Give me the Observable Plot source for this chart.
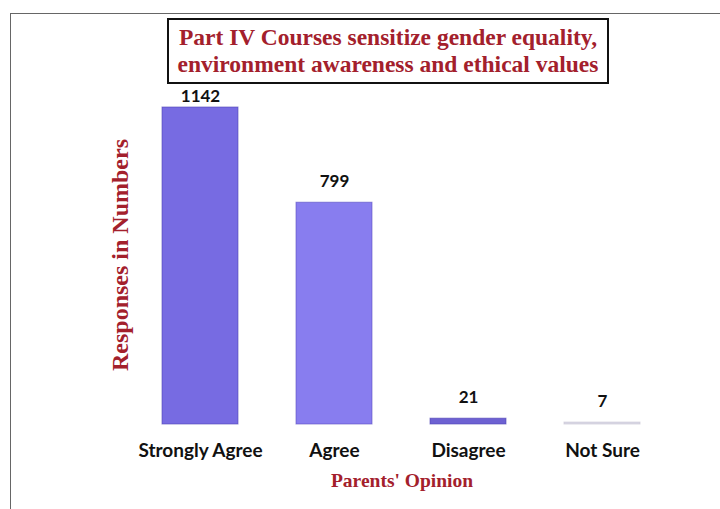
<!DOCTYPE html>
<html><head><meta charset="utf-8">
<script src="https://cdn.jsdelivr.net/npm/d3@7"></script>
<script src="https://cdn.jsdelivr.net/npm/@observablehq/plot@0.6"></script>
<style>
html,body{margin:0;padding:0;background:#fff;}
#wrap{position:relative;width:720px;height:509px;overflow:hidden;background:#fff;}
#frame{position:absolute;left:10px;top:13px;width:740px;height:520px;border-left:1px solid #666;border-top:1px solid #666;}
#title{position:absolute;left:167px;top:18px;width:438px;height:58px;border:2px solid #111;
  font-family:"Liberation Serif","DejaVu Serif",serif;font-weight:bold;color:#a3202c;font-size:23.5px;line-height:27px;
  text-align:center;padding-top:4px;box-sizing:content-box;white-space:nowrap;}
#ylab{position:absolute;left:120px;top:255px;transform:translate(-50%,-50%) rotate(-90deg);white-space:nowrap;
  font-family:"Liberation Serif",serif;font-weight:bold;color:#a3202c;font-size:24px;}
#xlab{position:absolute;left:402px;top:481px;transform:translate(-50%,-50%);white-space:nowrap;
  font-family:"Liberation Serif",serif;font-weight:bold;color:#a3202c;font-size:19.5px;}
svg{position:absolute;left:0;top:0;}
</style></head>
<body><div id="wrap"><div id="frame"></div></div>
<script>
const categories = ["Strongly Agree","Agree","Disagree","Not Sure"];
const values = [1142, 799, 21, 7];
const titleLines = ["Part IV Courses sensitize gender equality,","environment awareness and ethical values"];
const yLabel = "Responses in Numbers";
const xLabel = "Parents' Opinion";
const barColors = ["#776be2","#887def","#6d61d2","#dcdae6"];
const barStrokes = ["#4e42b4","#5a4ec0","#4e42b4","#c4c2d2"];

const data = categories.map((c,i)=>({cat:c, v:values[i], s:barStrokes[i]}));
const maxV = d3.max(values);
const chart = Plot.plot({
  width:720, height:509,
  marginLeft:132, marginRight:50, marginTop:107, marginBottom:85,
  style:{background:"transparent", fontFamily:"Lato, 'Open Sans', sans-serif"},
  x:{domain:categories, range:[132.25,670.25], paddingInner:0.435, paddingOuter:0.2175, label:null},
  y:{domain:[0, maxV], axis:null},
  color:{domain:categories, range:barColors},
  marks:[
    Plot.barY(data,{x:"cat", y:"v", fill:"cat", stroke:d=>d.s, strokeWidth:1, strokeOpacity:0.6}),
    Plot.text(data.filter(d=>d.v===maxV),{x:"cat", y:"v", text:d=>String(d.v), dy:-11, fontSize:17, fontWeight:"bold", fill:"#111"}),
    Plot.text(data.filter(d=>d.v!==maxV),{x:"cat", y:"v", text:d=>String(d.v), dy:-21, fontSize:17, fontWeight:"bold", fill:"#111"}),
    Plot.axisX({tickSize:0, tickPadding:19, fontSize:19, fontWeight:"bold", fill:"#111", label:null})
  ]
});
const wrap = document.getElementById("wrap");
wrap.appendChild(chart);
const t = document.createElement("div"); t.id="title"; t.innerHTML = titleLines.join("<br>"); wrap.appendChild(t);
const yl = document.createElement("div"); yl.id="ylab"; yl.textContent=yLabel; wrap.appendChild(yl);
const xl = document.createElement("div"); xl.id="xlab"; xl.textContent=xLabel; wrap.appendChild(xl);
</script></body></html>
